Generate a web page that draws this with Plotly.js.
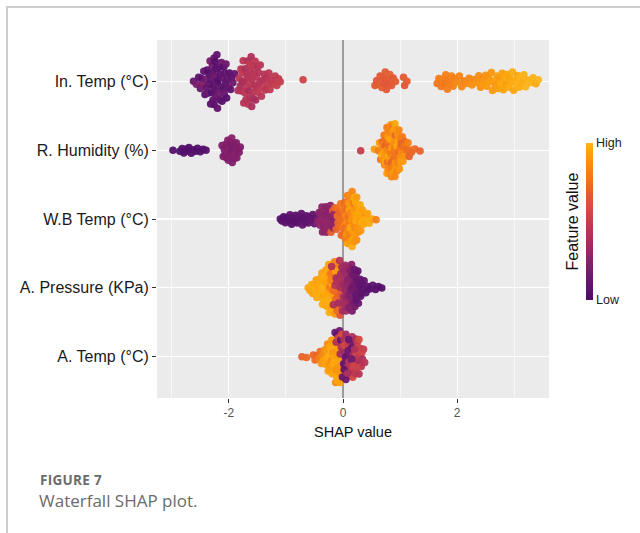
<!DOCTYPE html>
<html>
<head>
<meta charset="utf-8">
<script src="https://cdn.plot.ly/plotly-3.0.1.min.js"></script>
<style>
  html, body { margin: 0; padding: 0; background: #fff; }
  #wrap { position: relative; width: 640px; height: 533px; overflow: hidden; }
  #chart { position: absolute; left: 0; top: 0; width: 640px; height: 533px; }
  #frame { position: absolute; left: 6px; top: 6px; width: 640px; height: 540px;
           border-left: 2px solid #cdcdcd; border-top: 2px solid #cdcdcd; pointer-events: none; }
  #fig { position: absolute; left: 40px; top: 474px; font-family: "Open Sans", sans-serif; line-height: 13px;
         font-weight: 700; font-size: 13.5px; color: #6b6b6b; letter-spacing: 0.3px; white-space: nowrap; }
  #cap { position: absolute; left: 39px; top: 492px; font-family: "Open Sans", sans-serif; line-height: 17px;
         font-weight: 400; font-size: 17px; color: #6b6b6b; white-space: nowrap; }
</style>
</head>
<body>
<div id="wrap">
  <div id="chart"></div>
  <div id="frame"></div>
  <div id="fig">FIGURE 7</div>
  <div id="cap">Waterfall SHAP plot.</div>
</div>
<script>
// ---- data (SHAP value and scaled feature value 0-100 per sample) ----
const features = ['A. Temp (°C)', 'A. Pressure (KPa)', 'W.B Temp (°C)', 'R. Humidity (%)', 'In. Temp (°C)'];
const xTickVals = [-2, 0, 2];
const colorTickText = ['Low', 'High'];

const inTempShap = [
 -2.62,-2.57,-2.53,-2.50,-2.48,-2.46,-2.44,-2.42,-2.41,-2.39,
 -2.38,-2.37,-2.35,-2.34,-2.33,-2.32,-2.31,-2.30,-2.29,-2.28,
 -2.28,-2.27,-2.26,-2.26,-2.25,-2.24,-2.24,-2.23,-2.22,-2.21,
 -2.21,-2.20,-2.19,-2.18,-2.17,-2.16,-2.15,-2.14,-2.13,-2.12,
 -2.11,-2.10,-2.09,-2.08,-2.07,-2.06,-2.05,-2.04,-2.03,-2.01,
 -1.99,-1.97,-1.95,-1.93,-1.90,
 -1.84,-1.82,-1.80,-1.79,-1.78,-1.77,-1.76,-1.75,-1.74,-1.73,
 -1.72,-1.71,-1.70,-1.69,-1.68,-1.67,-1.66,-1.65,-1.65,-1.64,
 -1.63,-1.62,-1.62,-1.61,-1.60,-1.59,-1.58,-1.58,-1.57,-1.56,
 -1.55,-1.54,-1.53,-1.52,-1.51,-1.50,-1.49,-1.48,-1.46,-1.45,
 -1.43,-1.42,-1.40,-1.38,-1.36,-1.34,-1.32,-1.30,-1.28,-1.25,
 -1.22,-1.19,-1.16,-1.13,-1.10,
 -0.70,
 0.56,0.59,0.62,0.65,0.68,0.70,0.72,0.74,0.76,0.78,0.80,0.82,0.85,0.88,0.92,1.06,1.08,1.12,
 1.65,1.68,1.72,1.75,1.78,1.80,1.83,1.85,1.88,1.90,
 1.93,1.96,2.00,2.04,2.08,2.12,2.16,2.21,2.26,2.30,
 2.34,2.38,2.41,2.44,2.47,2.50,2.52,2.55,2.57,2.60,
 2.62,2.65,2.67,2.70,2.72,2.74,2.76,2.79,2.81,2.83,
 2.86,2.88,2.90,2.92,2.95,2.97,2.99,3.02,3.04,3.06,
 3.09,3.11,3.14,3.17,3.20,3.24,3.28,3.33,3.38,3.42
];
const inTempFeat = [
 12,20,8,14,6,22,10,5,16,9,
 7,13,4,11,18,6,9,3,14,8,
 10,5,12,7,15,9,4,11,6,13,
 8,10,3,16,7,12,5,9,14,6,
 11,8,4,13,10,7,15,5,9,12,
 6,10,8,14,11,
 40,44,38,46,42,48,36,45,43,41,
 47,39,44,42,46,40,45,43,37,48,
 42,44,46,41,39,45,43,47,40,44,
 42,46,38,45,43,41,47,44,42,46,
 45,43,48,44,46,42,47,45,49,46,
 48,47,50,48,50,
 55,
 66,64,67,65,68,66,63,67,65,66,64,68,66,65,67,66,64,67,
 78,80,79,81,78,82,80,79,81,83,
 82,80,84,83,85,82,86,84,87,85,
 88,86,89,87,90,88,91,89,92,90,
 91,93,90,94,92,91,95,93,94,96,
 92,95,97,94,96,98,95,97,99,96,
 98,100,97,99,100,98,100,99,97,100
];

const rHumShap = [
 -2.98,-2.86,-2.82,-2.79,-2.76,-2.73,-2.70,-2.66,-2.62,-2.58,-2.55,-2.50,-2.45,-2.40,
 -2.12,-2.10,-2.08,-2.07,-2.06,-2.05,-2.04,-2.03,-2.02,-2.01,
 -2.00,-1.99,-1.98,-1.98,-1.97,-1.96,-1.95,-1.94,-1.93,-1.92,
 -1.91,-1.90,-1.89,-1.88,-1.87,-1.86,-1.84,-1.82,-1.80,
 0.31,0.55,1.26,1.35,
 0.62,0.64,0.66,0.67,0.68,0.69,0.70,0.71,0.72,0.72,
 0.73,0.74,0.74,0.75,0.75,0.76,0.76,0.77,0.77,0.78,
 0.78,0.79,0.79,0.80,0.80,0.81,0.81,0.82,0.82,0.83,
 0.83,0.83,0.84,0.84,0.85,0.85,0.85,0.86,0.86,0.87,
 0.87,0.87,0.88,0.88,0.89,0.89,0.89,0.90,0.90,0.91,
 0.91,0.91,0.92,0.92,0.93,0.93,0.94,0.94,0.95,0.95,
 0.96,0.96,0.97,0.97,0.98,0.98,0.99,1.00,1.00,1.01,
 1.02,1.02,1.03,1.04,1.05,1.06,1.07,1.08,1.09,1.10,
 1.12,1.14,1.16,1.18,1.20
];
const rHumFeat = [
 4,3,5,2,6,4,3,5,4,6,3,5,4,6,
 22,24,21,23,25,22,20,24,23,21,
 25,22,24,23,21,22,25,23,20,24,
 22,23,21,25,22,24,23,21,22,
 50,92,72,70,
 80,92,76,85,96,72,88,82,94,78,
 86,70,90,83,97,75,88,80,93,84,
 74,91,86,79,95,82,87,73,90,85,
 81,96,77,88,84,92,70,86,80,94,
 83,78,91,87,75,93,82,89,76,95,
 84,80,88,72,92,86,79,90,83,97,
 76,88,82,94,74,85,90,78,87,81,
 93,70,86,80,91,75,84,72,88,78,
 74,82,70,76,72
];

const wbTempShap = [
 -1.10,-1.07,-1.04,-1.01,-0.98,-0.95,-0.93,-0.90,-0.88,-0.85,
 -0.83,-0.80,-0.78,-0.76,-0.73,-0.71,-0.69,-0.66,-0.64,-0.61,
 -0.59,-0.56,-0.53,-0.50,-0.47,
 -0.44,-0.42,-0.40,-0.39,-0.38,-0.37,-0.36,-0.35,-0.34,-0.33,
 -0.32,-0.31,-0.30,-0.30,-0.29,-0.28,-0.27,-0.26,-0.25,-0.24,
 -0.23,-0.22,-0.21,-0.20,-0.19,-0.18,-0.17,-0.16,-0.15,
 -0.14,-0.12,-0.10,-0.09,-0.08,-0.07,-0.06,-0.05,-0.04,-0.03,
 -0.02,-0.01,0.00,0.01,0.02,0.03,0.03,0.04,0.05,0.05,
 0.06,0.06,0.07,0.07,0.08,0.08,0.09,0.09,0.10,0.10,
 0.11,0.11,0.12,0.12,0.13,0.13,0.14,0.14,0.15,0.15,
 0.16,0.16,0.17,0.17,0.18,0.18,0.19,0.19,0.20,0.20,
 0.21,0.21,0.22,0.22,0.23,0.23,0.24,0.24,0.25,0.26,
 0.26,0.27,0.28,0.29,0.30,0.31,0.32,0.33,0.34,0.36,
 0.38,0.40,0.43,0.46,0.51,0.58
];
const wbTempFeat = [
 5,6,4,7,5,6,8,5,7,6,
 8,6,9,7,8,10,7,9,8,10,
 9,11,10,12,11,
 27,25,28,26,29,27,24,28,26,30,
 27,25,29,26,28,27,30,26,28,25,
 29,27,68,26,28,66,27,29,26,
 72,70,74,71,76,73,70,75,78,72,
 74,77,80,73,76,82,71,79,84,75,
 78,88,74,86,80,92,77,85,90,82,
 94,79,87,91,83,96,86,80,93,89,
 84,97,88,92,81,95,90,86,98,89,
 93,85,96,91,88,97,92,87,95,90,
 94,88,96,92,97,90,94,98,93,95,
 92,96,94,97,95,82
];

const aPresShap = [
 -0.61,-0.58,-0.55,-0.53,-0.51,-0.49,-0.47,-0.46,-0.44,-0.43,
 -0.41,-0.40,-0.39,-0.38,-0.37,-0.36,-0.35,-0.34,-0.33,-0.32,
 -0.31,-0.30,-0.29,-0.28,-0.27,-0.26,-0.25,-0.24,-0.23,-0.22,
 -0.21,-0.20,-0.19,-0.18,-0.17,-0.16,-0.15,-0.14,-0.13,-0.12,
 -0.11,-0.10,-0.09,-0.08,-0.07,-0.06,-0.05,-0.04,-0.03,-0.02,
 -0.33,-0.28,-0.25,-0.22,-0.19,-0.16,-0.13,-0.10,-0.27,-0.21,
 -0.20,-0.17,-0.14,-0.12,-0.10,-0.08,-0.06,-0.05,-0.04,-0.03,
 -0.02,-0.01,0.00,0.01,0.02,0.03,0.04,0.05,0.06,0.07,
 0.08,0.09,0.10,0.11,0.12,0.13,0.14,0.15,0.16,0.17,
 0.18,0.19,0.20,0.21,0.22,0.23,0.24,0.25,0.26,0.27,
 0.28,0.29,0.30,0.31,0.33,0.35,0.37,0.40,0.43,0.47,
 0.52,0.57,0.62,0.68,
 0.02,0.05,0.08,0.11,0.14,0.17,0.20,0.23,0.04,0.10,0.16,0.22
];
const aPresFeat = [
 96,95,97,94,96,98,93,97,95,96,
 94,98,95,97,93,96,99,94,97,95,
 98,93,96,94,97,95,92,98,80,96,
 94,78,97,93,76,95,82,90,74,88,
 72,85,70,80,66,76,62,70,58,64,
 97,95,94,78,96,74,93,72,98,82,
 42,40,44,38,41,36,43,39,37,40,
 35,38,34,36,33,37,32,35,30,33,
 28,31,26,29,24,27,22,25,20,23,
 18,21,16,19,14,17,12,15,10,13,
 11,9,12,8,10,7,9,6,8,5,
 7,5,6,4,
 36,30,26,22,18,15,12,10,33,24,16,11
];

const aTempShap = [
 -0.72,-0.64,
 -0.52,-0.49,-0.46,-0.43,-0.40,-0.38,-0.36,-0.34,-0.32,-0.30,
 -0.29,-0.28,-0.27,-0.26,-0.25,-0.24,-0.23,-0.22,-0.21,-0.20,
 -0.19,-0.18,-0.17,-0.16,-0.15,-0.14,-0.13,-0.12,-0.11,-0.10,
 -0.09,-0.08,-0.07,-0.06,-0.05,-0.04,-0.03,-0.02,
 -0.20,-0.15,-0.12,-0.10,-0.08,-0.06,
 -0.14,-0.12,-0.10,-0.08,-0.06,-0.05,-0.04,-0.03,-0.02,-0.01,
 0.00,0.01,0.02,0.03,0.04,0.05,0.06,0.07,0.08,0.09,
 0.10,0.11,0.12,0.13,0.14,0.15,0.16,0.17,0.18,0.19,
 0.20,0.21,0.22,0.23,0.24,0.25,0.26,0.27,0.28,0.29,
 0.30,0.31,0.32,0.33,0.34,0.36,0.38,
 0.02,0.05,0.08,0.10,0.12,0.15,0.18,0.20,0.22,0.25,0.28
];
const aTempFeat = [
 70,72,
 72,74,70,80,76,90,84,92,88,94,
 90,96,86,93,97,89,95,91,98,87,
 94,90,96,88,93,97,85,92,95,89,
 96,91,94,87,93,80,90,84,
 92,95,88,96,90,94,
 12,40,8,55,15,38,10,44,60,14,
 36,9,42,58,16,35,11,45,52,13,
 40,56,18,37,48,12,42,58,35,15,
 44,52,38,60,40,46,55,42,58,48,
 38,52,45,56,40,50,44,
 10,14,38,12,42,16,55,40,48,52,44
];

// ---- beeswarm (quasirandom, density scaled) offsets: deterministic layout ----
function vdc(n) { let v = 0, d = 1; while (n > 0) { d *= 2; v += (n % 2) / d; n = Math.floor(n / 2); } return v; }
function swarm(xs, h, W) {
  const dens = xs.map(xi => xs.reduce((s, xj) => s + Math.exp(-0.5 * ((xi - xj) / h) ** 2), 0));
  const m = Math.max(...dens);
  const order = xs.map((_, i) => i).sort((a, b) => xs[a] - xs[b]);
  const off = new Array(xs.length);
  order.forEach((idx, r) => { off[idx] = (2 * vdc(r + 1) - 1) * W * dens[idx] / m; });
  return off;
}

const rows = [
  [aTempShap, aTempFeat],
  [aPresShap, aPresFeat],
  [wbTempShap, wbTempFeat],
  [rHumShap, rHumFeat],
  [inTempShap, inTempFeat]
];
let X = [], Y = [], C = [];
rows.forEach(([s, f], k) => {
  const n = Math.min(s.length, f.length);
  const xs = s.slice(0, n);
  const off = swarm(xs, 0.06, 0.42);
  for (let i = 0; i < n; i++) { X.push(xs[i]); Y.push(k + 1 + off[i]); C.push(f[i]); }
});

const cscale = [
  [0, '#4a0c6b'], [0.131, '#6a176e'], [0.295, '#932667'], [0.459, '#bc3754'],
  [0.623, '#dd513a'], [0.787, '#f37819'], [0.951, '#fca50a'], [1, '#fbb41a']
];

const trace = {
  type: 'scatter', mode: 'markers', x: X, y: Y, hoverinfo: 'skip',
  marker: {
    size: 7.5, color: C, colorscale: cscale, cmin: 0, cmax: 100, opacity: 0.95,
    line: { width: 0 },
    showscale: true,
    colorbar: {
      x: 1.094, xanchor: 'left', y: 0.493, yanchor: 'middle',
      thickness: 7, thicknessmode: 'pixels', len: 157, lenmode: 'pixels',
      xpad: 0, ypad: 0, outlinewidth: 0, ticks: '',
      tickvals: [0, 100], ticktext: colorTickText,
      tickfont: { family: 'Liberation Sans, Arial, sans-serif', size: 12.5, color: '#222' }
    }
  }
};

const layout = {
  width: 640, height: 533,
  margin: { l: 157, r: 91, t: 40, b: 135 },
  paper_bgcolor: 'rgba(0,0,0,0)', plot_bgcolor: '#ebebeb',
  showlegend: false, hovermode: false,
  font: { family: 'Liberation Sans, Arial, sans-serif' },
  xaxis: {
    range: [-3.26, 3.61], tickvals: xTickVals, ticktext: xTickVals.map(String),
    ticks: 'outside', ticklen: 4, tickcolor: '#333', tickwidth: 1,
    tickfont: { size: 12, color: '#555' },
    showgrid: true, gridcolor: '#ffffff', gridwidth: 1.1,
    minor: { tickvals: [-3, -1, 1, 3], showgrid: true, gridcolor: '#ffffff', gridwidth: 0.6, ticks: '' },
    zeroline: true, zerolinecolor: '#9c9c9c', zerolinewidth: 1.2,
    showline: false, automargin: false,
    title: { text: 'SHAP value', font: { size: 14.5, color: '#111' }, standoff: 7 }
  },
  yaxis: {
    range: [0.4, 5.6], tickvals: [1, 2, 3, 4, 5], ticktext: features,
    ticks: 'outside', ticklen: 4, tickcolor: '#333', tickwidth: 1,
    tickfont: { size: 16, color: '#1a1a1a' },
    showgrid: true, gridcolor: '#ffffff', gridwidth: 1.1,
    zeroline: false, showline: false, automargin: false
  },
  annotations: [{
    text: 'Feature value', xref: 'paper', yref: 'paper', x: 1.0587, y: 0.493,
    xanchor: 'center', yanchor: 'middle', textangle: -90, showarrow: false,
    font: { family: 'Liberation Sans, Arial, sans-serif', size: 16, color: '#111' }
  }]
};

Plotly.newPlot('chart', [trace], layout, { displayModeBar: false, staticPlot: true });
</script>
</body>
</html>
